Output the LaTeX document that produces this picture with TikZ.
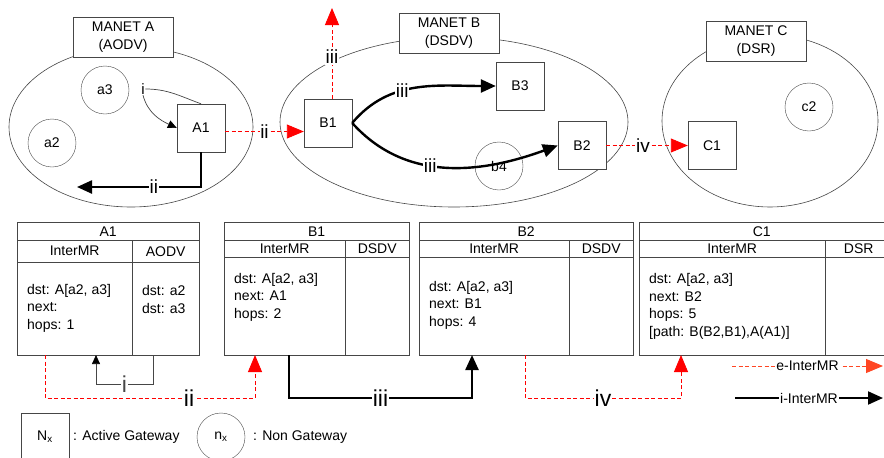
\documentclass[tikz,border=0pt]{standalone}
\usepackage{fontspec}
\setmainfont{Liberation Sans}
\usetikzlibrary{arrows.meta}

\definecolor{eRed}{RGB}{255,0,0}
\definecolor{eOrange}{RGB}{255,70,35}
\definecolor{boxGray}{RGB}{70,70,70}

\begin{document}
\begin{tikzpicture}[x=1pt,y=-1pt,
  font=\fontsize{14}{17.5}\selectfont,
  every node/.style={inner sep=0pt},
  netbox/.style={draw=boxGray,fill=white,minimum width=100pt,minimum height=40pt,align=center},
  gw/.style={draw=boxGray,fill=white,minimum size=48pt},
  ngw/.style={draw=boxGray,circle,minimum size=48pt},
  cell/.style={draw=boxGray,anchor=north west},
  lbl/.style={fill=white,inner sep=0.6pt,font=\fontsize{19}{19}\selectfont},
  blbl/.style={fill=white,inner sep=0.6pt,font=\fontsize{23}{23}\selectfont},
  ered/.style={color=eRed,dash pattern=on 4pt off 2.5pt,line width=0.9pt,-{Triangle[length=17pt,width=14pt]}},
  ithick/.style={color=black,line width=2.4pt,-{Triangle[length=15pt,width=13pt]}},
  ithin/.style={color=boxGray,line width=0.7pt,-{Triangle[length=9pt,width=8pt,color=black]}},
]
\clip (0,0) rectangle (884,458);

% MANETs
\draw[boxGray,line width=0.6pt] (131,127) ellipse [x radius=122pt, y radius=80pt];
\draw[boxGray,line width=0.6pt] (454,122) ellipse [x radius=174pt, y radius=85pt];
\draw[boxGray,line width=0.6pt] (770,121) ellipse [x radius=108pt, y radius=86pt];
\node[netbox] (netA) at (123,37) {MANET A\\(AODV)};
\node[netbox] (netB) at (449,33) {MANET B\\(DSDV)};
\node[netbox] (netC) at (756,41) {MANET C\\(DSR)};

% gateways and nodes
\node[gw] (A1) at (201,128) {A1};
\node[gw] (B1) at (328,123) {B1};
\node[gw] (B3) at (520,86) {B3};
\node[gw] (B2) at (582,145.5) {B2};
\node[gw] (C1) at (712,145.5) {C1};
\node[ngw] (a3) at (105,90) {a3};
\node[ngw] (a2) at (52,143) {a2};
\node[ngw] (b4) at (499,166) {b4};
\node[ngw] (c2) at (809,107) {c2};

% routes in the MANETs (e-InterMR lines first, labels after)
\coordinate (bUp) at (332,8);
\draw[ered] ([yshift=-3.5pt]A1.east) -- ([yshift=-3.5pt]A1.east -| B1.west);
\draw[ered] (B2.east) -- (C1.west);
\draw[ered] (B1.north -| bUp) -- (bUp);
\path ([yshift=-3.5pt]A1.east) -- node[lbl] {ii} ([yshift=-3.5pt]A1.east -| B1.west);
\path (B2.east) -- node[lbl,pos=0.45] {iv} (C1.west);
\path (B1.north -| bUp) -- node[lbl,pos=0.46] {iii} (bUp);
\node[lbl,font=\fontsize{15}{15}\selectfont] (li) at (143,89) {i};
\draw[boxGray,line width=0.7pt] (A1.north) to[out=160,in=0] (li.east);
\draw[ithin] (li.south) to[out=-75,in=155] (A1.west);
\coordinate (aEnd) at (77,187);
\draw[ithick] (A1.south) |- node[lbl,pos=0.69] {ii} (aEnd);
\draw[ithick] (B1.east) to[out=50,in=180] node[lbl,pos=0.4] {iii} (B3.west);
\draw[ithick] (B1.east) to[out=-48,in=200] node[lbl,pos=0.42] {iii} (B2.west);

% routing tables
\node[cell,minimum width=182pt,minimum height=18pt] (A1tt) at (17,222) {A1};
\node[cell,minimum width=115pt,minimum height=22pt] (A1h1) at (17,240) {InterMR};
\node[cell,minimum width=67pt,minimum height=22pt] (A1h2) at (132,240) {AODV};
\node[cell,minimum width=115pt,minimum height=93pt] (A1b1) at (17,262) {};
\node[cell,minimum width=67pt,minimum height=93pt] (A1b2) at (132,262) {};
\node[anchor=west,align=left] (A1t1) at (27,308) {dst: A[a2, a3]\\next:\\hops: 1};
\node[anchor=west,align=left] (A1t2) at (142,299.5) {dst: a2\\dst: a3};

\node[cell,minimum width=185pt,minimum height=18pt] (B1tt) at (224,222) {B1};
\node[cell,minimum width=121pt,minimum height=17pt] (B1h1) at (224,240) {InterMR};
\node[cell,minimum width=64pt,minimum height=17pt] (B1h2) at (345,240) {DSDV};
\node[cell,minimum width=121pt,minimum height=98pt] (B1b1) at (224,257) {};
\node[cell,minimum width=64pt,minimum height=98pt] (B1b2) at (345,257) {};
\node[anchor=west,align=left] (B1t1) at (234,297) {dst: A[a2, a3]\\next: A1\\hops: 2};

\node[cell,minimum width=214pt,minimum height=18pt] (B2tt) at (419,222) {B2};
\node[cell,minimum width=150pt,minimum height=17pt] (B2h1) at (419,240) {InterMR};
\node[cell,minimum width=64pt,minimum height=17pt] (B2h2) at (569,240) {DSDV};
\node[cell,minimum width=150pt,minimum height=98pt] (B2b1) at (419,257) {};
\node[cell,minimum width=64pt,minimum height=98pt] (B2b2) at (569,257) {};
\node[anchor=west,align=left] (B2t1) at (429,305) {dst: A[a2, a3]\\next: B1\\hops: 4};

\node[cell,minimum width=280pt,minimum height=18pt] (C1tt) at (639,222) {\hspace*{-35pt}C1};
\node[cell,minimum width=186pt,minimum height=17pt] (C1h1) at (639,240) {InterMR};
\node[cell,minimum width=94pt,minimum height=17pt] (C1h2) at (825,240) {\hspace*{-27pt}DSR};
\node[cell,minimum width=186pt,minimum height=98pt] (C1b1) at (639,257) {};
\node[cell,minimum width=94pt,minimum height=98pt] (C1b2) at (825,257) {};
\node[anchor=west,align=left] (C1t1) at (649,306.5) {dst: A[a2, a3]\\next: B2\\hops: 5\\{}[path: B(B2,B1),A(A1)]};

% routes between the tables
\coordinate (tii1) at (45,355);
\coordinate (tii2) at (255,355);
\draw[ered] (tii1) -- ++(0,43) -| (tii2);
\path (tii1) -- ++(0,43) -| node[blbl,pos=0.343] {ii} (tii2);
\coordinate (tiv1) at (525,355);
\coordinate (tiv2) at (681,355);
\draw[ered] (tiv1) -- ++(0,43) -| (tiv2);
\path (tiv1) -- ++(0,43) -| node[blbl,pos=0.25] {iv} (tiv2);
\coordinate (ti1) at (153,355);
\coordinate (ti2) at (96,355);
\draw[ithin] (ti1) -- ++(0,29) -| node[blbl,pos=0.25] {i} (ti2);
\coordinate (tiii1) at (289,355);
\coordinate (tiii2) at (472,355);
\draw[ithick] (tiii1) -- ++(0,43) -| node[blbl,pos=0.25] {iii} (tiii2);

% legend
\coordinate (le1) at (732,366);
\coordinate (le2) at (883,366);
\draw[ered,color=eOrange] (le1) -- (le2);
\path (le1) -- node[fill=white,inner sep=1pt] {e-InterMR} (le2);
\coordinate (li1) at (735,398);
\coordinate (li2) at (883,398);
\draw[ithick,line width=2pt] (li1) -- node[fill=white,inner sep=1pt] {i-InterMR} (li2);
\node[gw] (Nx) at (45,437) {N\textsubscript{x}};
\node[anchor=west] (NxTxt) at (73,437) {: Active Gateway};
\node[ngw] (nx) at (221,437) {n\textsubscript{x}};
\node[anchor=west] (nxTxt) at (253,437) {: Non Gateway};
\end{tikzpicture}
\end{document}
